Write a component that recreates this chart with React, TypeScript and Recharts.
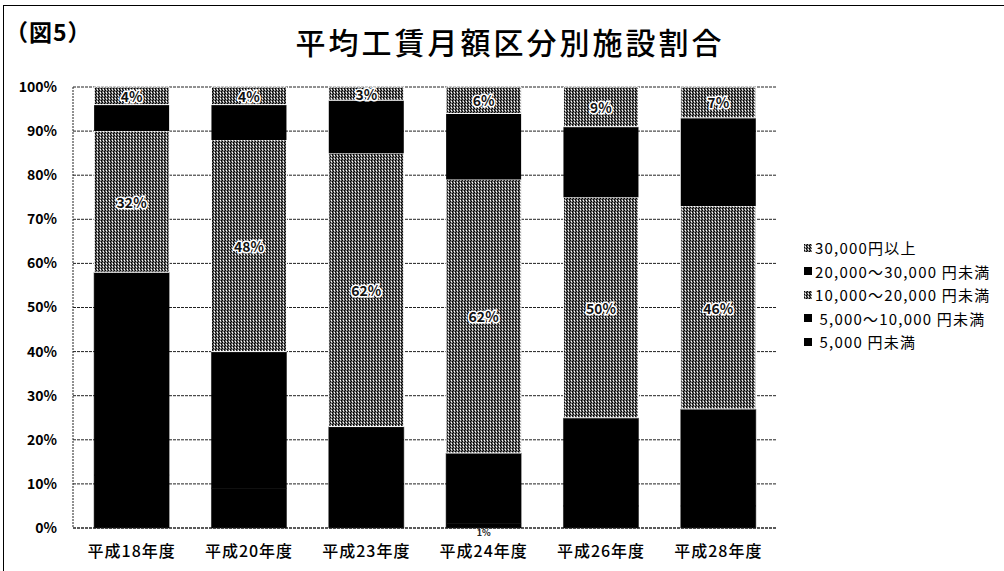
import React from 'react';
import { BarChart, Bar, XAxis, YAxis, CartesianGrid, LabelList } from 'recharts';

const categories = ['平成18年度', '平成20年度', '平成23年度', '平成24年度', '平成26年度', '平成28年度'];
const under5000 = [12, 9, 10, 1, 5, 5];
const from5000to10000 = [46, 31, 13, 16, 20, 22];
const from10000to20000 = [32, 48, 62, 62, 50, 46];
const from20000to30000 = [6, 8, 12, 15, 16, 20];
const over30000 = [4, 4, 3, 6, 9, 7];
const yTicks = [0, 10, 20, 30, 40, 50, 60, 70, 80, 90, 100];

const seriesNames = {
  s1: ' 5,000 円未満',
  s2: ' 5,000～10,000 円未満',
  s3: '10,000～20,000 円未満',
  s4: '20,000～30,000 円未満',
  s5: '30,000円以上',
};

const data = categories.map((c, i) => ({
  name: c,
  s1: under5000[i],
  s2: from5000to10000[i],
  s3: from10000to20000[i],
  s4: from20000to30000[i],
  s5: over30000[i],
}));

const FONT = "'Noto Sans CJK JP', 'Noto Sans', sans-serif";

const GrayLabel = (props: any) => {
  const { x, y, width, height, value } = props;
  return (
    <text
      x={x + width / 2}
      y={y + height / 2}
      textAnchor="middle"
      dominantBaseline="central"
      fontFamily={FONT}
      fontWeight={700}
      fontSize={14}
      fill="#111"
      stroke="#fff"
      strokeWidth={3}
      paintOrder="stroke"
    >
      {value}%
    </text>
  );
};

const SmallLabel = (props: any) => {
  const { x, y, width, height, value } = props;
  if (height > 10) return null;
  return (
    <text
      x={x + width / 2}
      y={y + height + 4}
      textAnchor="middle"
      dominantBaseline="central"
      fontFamily={FONT}
      fontWeight={700}
      fontSize={9}
      fill="#222"
    >
      {value}%
    </text>
  );
};

const legendItems = [
  { key: 's5', fill: 'gray' },
  { key: 's4', fill: 'black' },
  { key: 's3', fill: 'gray' },
  { key: 's2', fill: 'black' },
  { key: 's1', fill: 'black' },
];

export default function App() {
  return (
    <div style={{ position: 'absolute', left: 0, top: 0, width: 1004, height: 571, background: '#fff', overflow: 'hidden', fontFamily: FONT }}>
      <div style={{ position: 'absolute', left: 3, top: 5, width: 1010, height: 580, borderTop: '1.5px solid #000', borderLeft: '1.5px solid #000' }} />
      <div style={{ position: 'absolute', left: 5, top: 14, fontSize: 23, fontWeight: 700, color: '#000', letterSpacing: 1 }}>（図5）</div>
      <div style={{ position: 'absolute', left: 0, width: 1020, top: 19, textAlign: 'center', fontSize: 30, fontWeight: 500, color: '#000', letterSpacing: 3 }}>平均工賃月額区分別施設割合</div>
      <div style={{ position: 'absolute', left: 0, top: 0 }}>
        <BarChart
          width={1004}
          height={571}
          data={data}
          margin={{ top: 87, right: 227, bottom: 13, left: 0 }}
          barCategoryGap="18%"
        >
          <defs>
            <pattern id="dither" width="3" height="3" patternUnits="userSpaceOnUse">
              <rect width="3" height="3" fill="#6a6a6a" />
              <rect x="0" y="0" width="1" height="1" fill="#000" />
              <rect x="2" y="1" width="1" height="1" fill="#000" />
              <rect x="1" y="2" width="1" height="1" fill="#fff" />
              <rect x="2" y="2" width="1" height="1" fill="#222" />
              <rect x="1" y="0" width="1" height="1" fill="#aaa" />
            </pattern>
          </defs>
          <CartesianGrid vertical={false} stroke="#222" strokeDasharray="3 1" />
          <XAxis
            dataKey="name"
            height={30}
            tickLine={false}
            axisLine={{ stroke: '#222', strokeDasharray: '3 1' }}
            tickSize={6}
            tickMargin={12}
            tick={{ fontFamily: FONT, fontSize: 16, fontWeight: 500, fill: '#000', letterSpacing: 1 }}
          />
          <YAxis
            width={73}
            domain={[0, 100]}
            ticks={yTicks}
            tickFormatter={(v: number) => `${v}%`}
            tickLine={false}
            axisLine={{ stroke: '#222', strokeDasharray: '2 1' }}
            tickSize={6}
            tickMargin={10}
            tick={{ fontFamily: FONT, fontSize: 14, fontWeight: 700, fill: '#000' }}
          />
          <Bar dataKey="s1" name={seriesNames.s1} stackId="a" fill="#000" stroke="#000" strokeWidth={0.5} isAnimationActive={false}>
            <LabelList dataKey="s1" content={SmallLabel} />
          </Bar>
          <Bar dataKey="s2" name={seriesNames.s2} stackId="a" fill="#000" stroke="#000" strokeWidth={0.5} isAnimationActive={false} />
          <Bar dataKey="s3" name={seriesNames.s3} stackId="a" fill="url(#dither)" stroke="#fff" strokeWidth={1} isAnimationActive={false}>
            <LabelList dataKey="s3" content={GrayLabel} />
          </Bar>
          <Bar dataKey="s4" name={seriesNames.s4} stackId="a" fill="#000" isAnimationActive={false} />
          <Bar dataKey="s5" name={seriesNames.s5} stackId="a" fill="url(#dither)" stroke="#fff" strokeWidth={1} isAnimationActive={false}>
            <LabelList dataKey="s5" content={GrayLabel} />
          </Bar>
        </BarChart>
      </div>
      <div style={{ position: 'absolute', left: 804, top: 236 }}>
        {legendItems.map((it) => (
          <div key={it.key} style={{ display: 'flex', alignItems: 'center', height: 23.5, fontSize: 15, color: '#000', letterSpacing: 1.2, whiteSpace: 'pre' }}>
            <svg width={8} height={8} style={{ marginRight: 3 }}>
              <rect width={8} height={8} fill={it.fill === 'gray' ? 'url(#dither)' : '#000'} />
            </svg>
            <span>{(seriesNames as any)[it.key]}</span>
          </div>
        ))}
      </div>
    </div>
  );
}
